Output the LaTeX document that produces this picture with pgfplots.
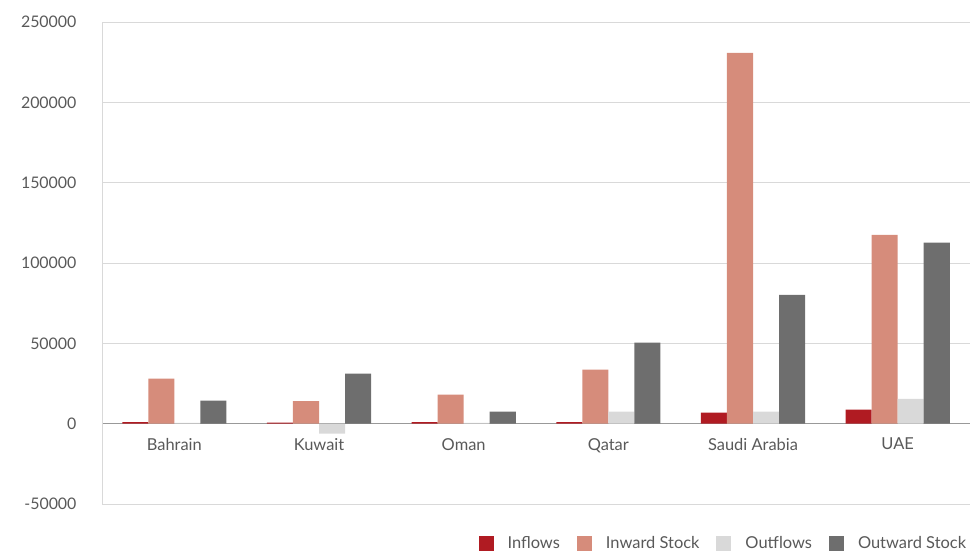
\documentclass[border=0pt]{standalone}
\usepackage{pgfplots}
\pgfplotsset{compat=1.18}
\usepackage{fontspec}
\setmainfont{Lato}
\definecolor{cIn}{HTML}{B01B22}
\definecolor{cInS}{HTML}{D68C7B}
\definecolor{cOut}{HTML}{D9D9D9}
\definecolor{cOutS}{HTML}{6E6E6E}
\definecolor{txt}{HTML}{595959}
\definecolor{grid}{HTML}{D9D9D9}
\begin{document}
\begin{tikzpicture}[x=1bp,y=1bp]
\path[use as bounding box] (0,0) rectangle (979,551);
\begin{axis}[
  at={(102bp,47bp)}, anchor=south west,
  scale only axis, width=868bp, height=482bp,
  ybar=0pt, bar width=0.18,
  xmin=-0.5, xmax=5.5, ymin=-50000, ymax=250000,
  xtick={0,1,2,3,4,5},
  xticklabels={Bahrain,Kuwait,Oman,Qatar,Saudi Arabia,UAE},
  ytick={-50000,0,50000,100000,150000,200000,250000},
  axis x line*=middle, axis y line*=left,
  x axis line style={draw=gray!80, line width=0.8pt, -},
  y axis line style={draw=grid, -},
  major tick length=0pt,
  ymajorgrids, grid style={draw=grid, line width=0.6pt},
  scaled y ticks=false,
  yticklabel style={/pgf/number format/fixed, /pgf/number format/1000 sep={}, /pgf/number format/assume math mode=true, font=\fontsize{16}{18}\selectfont, text=txt, xshift=-22bp},
  xticklabel style={font=\fontsize{16.5}{19}\selectfont, text=txt, anchor=north, yshift=-11bp},
  legend style={at={(0.998,-0.063)}, anchor=north east, draw=none, legend columns=4, font=\fontsize{16.5}{19}\selectfont, text=txt, /tikz/every odd column/.append style={column sep=12bp}, /tikz/every even column/.append style={column sep=15bp}, inner sep=0pt},
  legend image code/.code={\fill[#1] (0bp,-7.5bp) rectangle (15bp,7.5bp);},
  clip=false,
]
\addplot[fill=cIn, draw=none] coordinates {(0,1000) (1,600) (2,1000) (3,1000) (4,6800) (5,8700)};
\addplot[fill=cInS, draw=none] coordinates {(0,28000) (1,14000) (2,18000) (3,33600) (4,230700) (5,117500)};
\addplot[fill=cOut, draw=none] coordinates {(0,500) (1,-6200) (2,500) (3,7500) (4,7500) (5,15500)};
\addplot[fill=cOutS, draw=none] coordinates {(0,14300) (1,31100) (2,7500) (3,50400) (4,80200) (5,112600)};
\legend{Inflows,Inward Stock,Outflows,Outward Stock}
\end{axis}
\end{tikzpicture}
\end{document}
